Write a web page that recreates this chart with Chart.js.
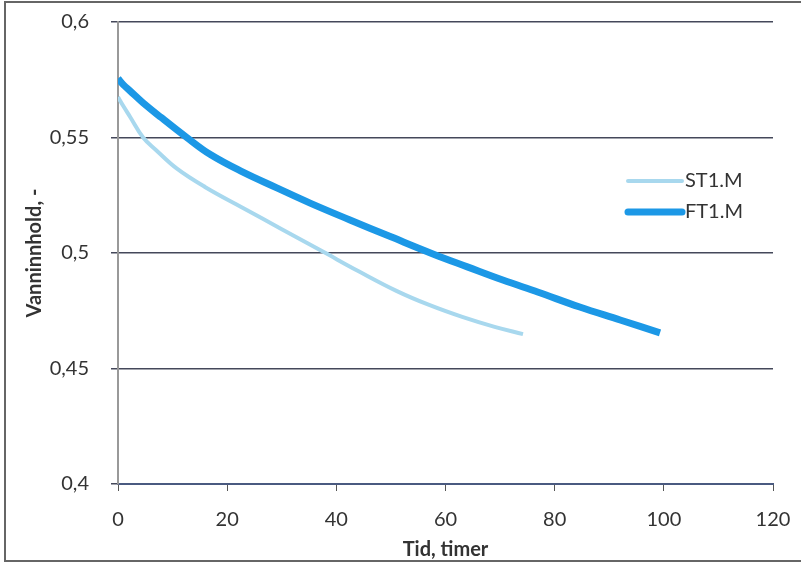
<!DOCTYPE html>
<html>
<head>
<meta charset="utf-8">
<script src="https://cdn.jsdelivr.net/npm/chart.js@4.4.1/dist/chart.umd.min.js"></script>
<style>
  html, body { margin: 0; padding: 0; background: #fff; }
  #wrap { width: 801px; height: 566px; position: relative; }
</style>
</head>
<body>
<div id="wrap"><canvas id="myChart" width="801" height="566"></canvas></div>
<script>
// values
const hoursST = [0, 1, 2.2, 4.6, 7, 10.8, 16, 22.9, 30, 37.6, 44, 51.1, 57, 63.2, 69, 74.2];
const waterST = [0.5675, 0.5635, 0.559, 0.550, 0.5445, 0.5365, 0.5285, 0.5195, 0.5103, 0.5005, 0.4922, 0.4835, 0.4775, 0.4722, 0.468, 0.4649];

const hoursFT = [0, 1, 2.2, 4.6, 8, 12.6, 17, 22.9, 29, 35.2, 42.5, 50, 57.7, 64, 70.5, 77, 84.6, 92, 99.3];
const waterFT = [0.5755, 0.5728, 0.5702, 0.565, 0.5585, 0.550, 0.5425, 0.535, 0.5283, 0.5216, 0.5143, 0.507, 0.4996, 0.494, 0.4883, 0.483, 0.4766, 0.471, 0.4654];

const seriesNames = ["ST1.M", "FT1.M"];
const seriesColors = ["rgb(168, 216, 238)", "rgb(28, 152, 230)"];

const font = "Lato, 'Open Sans', sans-serif";

function toPoints(xs, ys) {
  return xs.map((x, i) => ({ x: x, y: ys[i] }));
}

// legend drawn inside the plot area, right side
const insideLegend = {
  id: "insideLegend",
  afterDraw(chart) {
    const ctx = chart.ctx;
    const area = chart.chartArea;
    const x0 = area.right - 145;
    ctx.save();
    ctx.font = "20px " + font;
    ctx.textBaseline = "middle";
    chart.data.datasets.forEach((ds, i) => {
      const y = area.top + 159 + i * 31;
      ctx.strokeStyle = ds.borderColor;
      ctx.lineWidth = ds.borderWidth;
      ctx.lineCap = "round";
      ctx.beginPath();
      ctx.moveTo(x0, y);
      ctx.lineTo(x0 + 54, y);
      ctx.stroke();
      ctx.fillStyle = "#333";
      ctx.fillText(ds.label, x0 + 57, y);
    });
    ctx.restore();
  },
};

// thin frame around the whole chart
const frame = {
  id: "frame",
  afterDraw(chart) {
    const ctx = chart.ctx;
    ctx.save();
    ctx.strokeStyle = "#666";
    ctx.lineWidth = 2;
    ctx.strokeRect(5, 2, chart.width - 4, chart.height - 7);
    ctx.restore();
  },
};

const ctx = document.getElementById("myChart").getContext("2d");
const myChart = new Chart(ctx, {
  type: "line",
  data: {
    datasets: [
      {
        label: seriesNames[0],
        data: toPoints(hoursST, waterST),
        borderColor: seriesColors[0],
        borderWidth: 4,
        pointRadius: 0,
        fill: false,
        tension: 0.4,
      },
      {
        label: seriesNames[1],
        data: toPoints(hoursFT, waterFT),
        borderColor: seriesColors[1],
        borderWidth: 7,
        pointRadius: 0,
        fill: false,
        tension: 0.4,
      },
    ],
  },
  options: {
    responsive: false,
    animation: false,
    layout: { padding: { left: 0, right: 28, top: 22, bottom: 0 } },
    plugins: {
      legend: { display: false },
      tooltip: { enabled: false },
    },
    scales: {
      x: {
        type: "linear",
        min: 0,
        max: 120,
        ticks: {
          stepSize: 20,
          padding: 17,
          color: "#333",
          font: { family: font, size: 20 },
        },
        grid: {
          drawOnChartArea: false,
          drawTicks: true,
          tickLength: 7,
          color: "#555",
        },
        border: { color: "#4a5a80", width: 2 },
        title: {
          display: true,
          text: "Tid, timer",
          color: "#333",
          font: { family: font, size: 20, weight: "bold" },
          padding: { top: 0, bottom: 4 },
        },
        afterFit(scale) {
          scale.height = 82;
          scale.paddingLeft = 0;
          scale.paddingRight = 0;
        },
      },
      y: {
        min: 0.4,
        max: 0.6,
        ticks: {
          stepSize: 0.05,
          padding: 22,
          color: "#333",
          font: { family: font, size: 20 },
          callback: (v) => String(Math.round(v * 100) / 100).replace(".", ","),
        },
        grid: {
          color: "#44485a",
          lineWidth: 1.5,
          tickLength: 7,
        },
        border: { color: "#999", width: 2 },
        title: {
          display: true,
          text: "Vanninnhold, -",
          color: "#333",
          font: { family: font, size: 20, weight: "bold" },
          padding: { top: 23, bottom: 0 },
        },
        afterFit(scale) {
          scale.width = 118;
          scale.paddingTop = 0;
          scale.paddingBottom = 0;
        },
      },
    },
  },
  plugins: [insideLegend, frame],
});
</script>
</body>
</html>
